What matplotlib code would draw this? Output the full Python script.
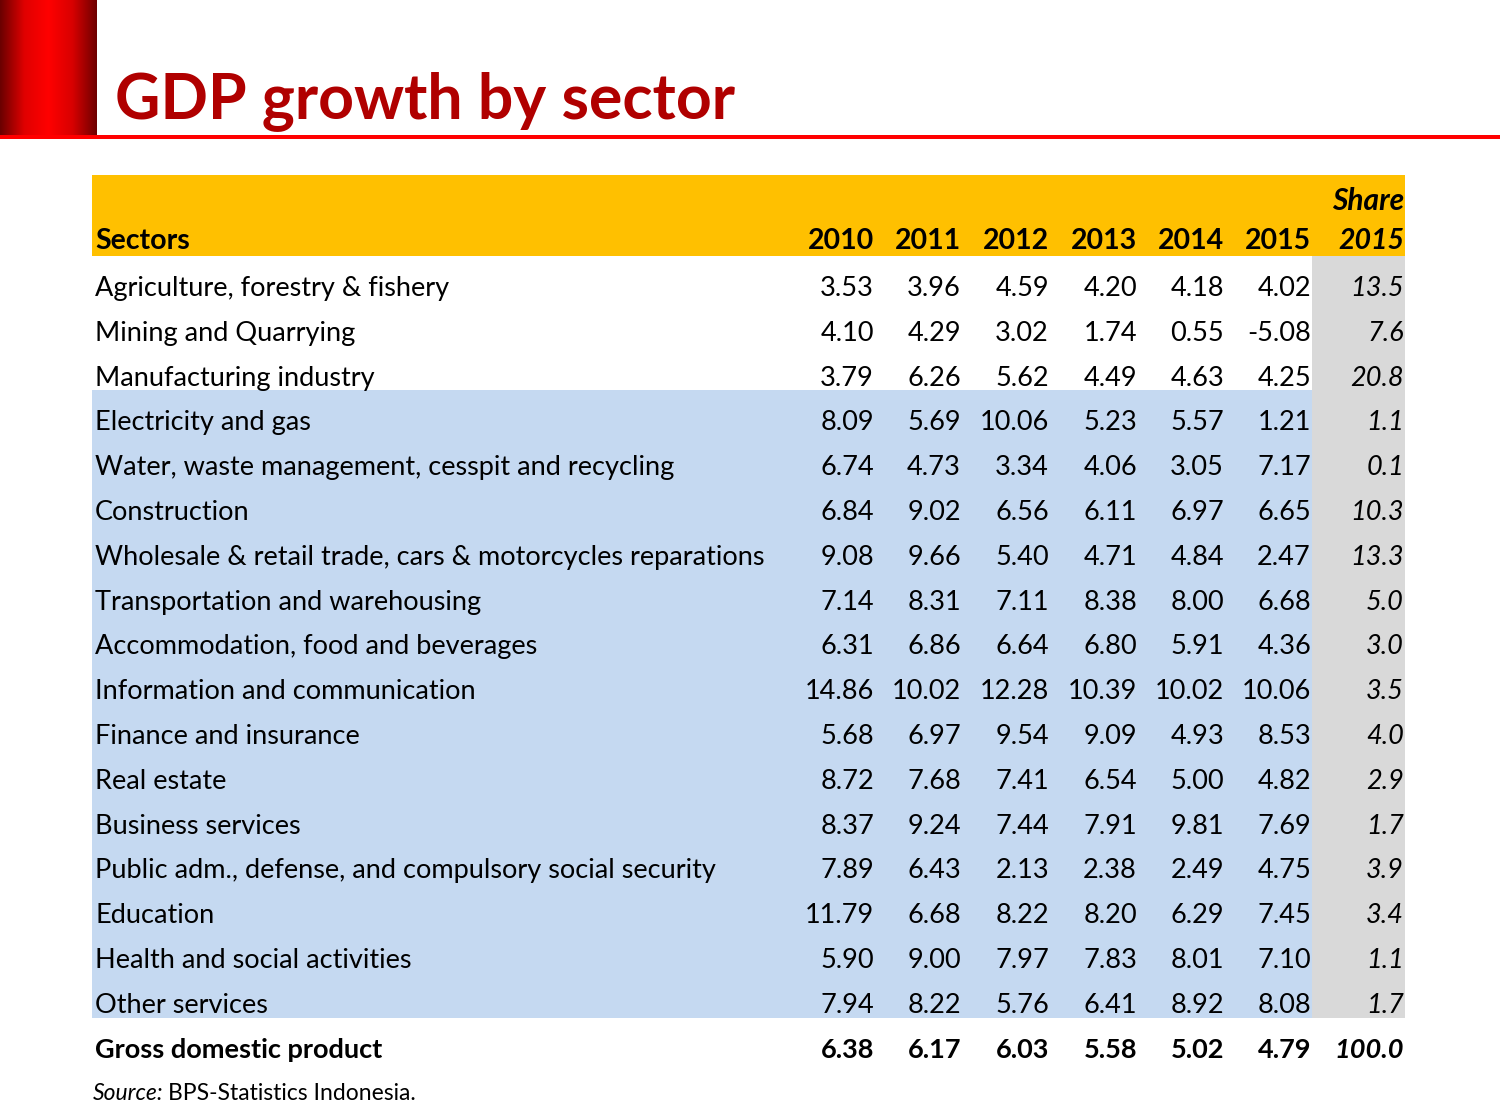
import matplotlib
matplotlib.use("Agg")
import matplotlib.pyplot as plt
from matplotlib.colors import LinearSegmentedColormap
import numpy as np

plt.rcParams['font.family'] = ['Lato', 'DejaVu Sans']

# data
title = "GDP growth by sector"
years = ["2010", "2011", "2012", "2013", "2014", "2015"]
sectors = [
    "Agriculture, forestry & fishery",
    "Mining and Quarrying",
    "Manufacturing industry",
    "Electricity and gas",
    "Water, waste management, cesspit and recycling",
    "Construction",
    "Wholesale & retail trade, cars & motorcycles reparations",
    "Transportation and warehousing",
    "Accommodation, food and beverages",
    "Information and communication",
    "Finance and insurance",
    "Real estate",
    "Business services",
    "Public adm., defense, and compulsory social security",
    "Education",
    "Health and social activities",
    "Other services",
]
g2010 = [3.53, 4.10, 3.79, 8.09, 6.74, 6.84, 9.08, 7.14, 6.31, 14.86, 5.68, 8.72, 8.37, 7.89, 11.79, 5.90, 7.94]
g2011 = [3.96, 4.29, 6.26, 5.69, 4.73, 9.02, 9.66, 8.31, 6.86, 10.02, 6.97, 7.68, 9.24, 6.43, 6.68, 9.00, 8.22]
g2012 = [4.59, 3.02, 5.62, 10.06, 3.34, 6.56, 5.40, 7.11, 6.64, 12.28, 9.54, 7.41, 7.44, 2.13, 8.22, 7.97, 5.76]
g2013 = [4.20, 1.74, 4.49, 5.23, 4.06, 6.11, 4.71, 8.38, 6.80, 10.39, 9.09, 6.54, 7.91, 2.38, 8.20, 7.83, 6.41]
g2014 = [4.18, 0.55, 4.63, 5.57, 3.05, 6.97, 4.84, 8.00, 5.91, 10.02, 4.93, 5.00, 9.81, 2.49, 6.29, 8.01, 8.92]
g2015 = [4.02, -5.08, 4.25, 1.21, 7.17, 6.65, 2.47, 6.68, 4.36, 10.06, 8.53, 4.82, 7.69, 4.75, 7.45, 7.10, 8.08]
share2015 = [13.5, 7.6, 20.8, 1.1, 0.1, 10.3, 13.3, 5.0, 3.0, 3.5, 4.0, 2.9, 1.7, 3.9, 3.4, 1.1, 1.7]
gdp_growth = [6.38, 6.17, 6.03, 5.58, 5.02, 4.79]
gdp_share = 100.0
source = "BPS-Statistics Indonesia."

growth = [g2010, g2011, g2012, g2013, g2014, g2015]

W, H = 1500, 1113
fig = plt.figure(figsize=(W / 100, H / 100), dpi=100)
ax = fig.add_axes([0, 0, 1, 1])
ax.set_xlim(0, W)
ax.set_ylim(H, 0)
ax.axis('off')

# red header block + line
cmap = LinearSegmentedColormap.from_list('bar', ['#6a0000', '#e00000', '#ff0000', '#d80000', '#6e0000'])
ax.imshow(np.linspace(0, 1, 200)[None, :], cmap=cmap, extent=[0, 97, 137, 0], aspect='auto')
ax.add_patch(plt.Rectangle((0, 135), W, 3.5, color='#ff0000', lw=0))
ax.text(115, 118, title, fontsize=45, fontweight='bold', color='#b00000', va='baseline')

# table geometry
x0, x1 = 92, 1405
top_head, top_body = 175, 256
rh = 44.8
col_right = [874, 961, 1049, 1137, 1224, 1311]
share_right = 1404
fs = 19.5
hfs = 20.5

ax.add_patch(plt.Rectangle((x0, top_head), x1 - x0, top_body - top_head, color='#ffc000', lw=0))
n = len(sectors)
ax.add_patch(plt.Rectangle((x0, top_body + 3 * rh), 1312 - x0, (n - 3) * rh, color='#c5d9f1', lw=0))
ax.add_patch(plt.Rectangle((1312, top_body), x1 - 1312, n * rh, color='#d9d9d9', lw=0))

ax.text(95, 249, "Sectors", fontsize=hfs, fontweight='bold', va='baseline')
for j, y in enumerate(years):
    ax.text(col_right[j], 249, y, fontsize=hfs, fontweight='bold', ha='right', va='baseline')
ax.text(share_right, 210, "Share", fontsize=21.5, fontweight='bold', style='italic', ha='right', va='baseline')
ax.text(share_right, 249, "2015", fontsize=hfs, fontweight='bold', style='italic', ha='right', va='baseline')

for i, s in enumerate(sectors):
    yb = top_body + i * rh + 40
    ax.text(95, yb, s, fontsize=fs, va='baseline')
    for j in range(len(years)):
        ax.text(col_right[j], yb, f"{growth[j][i]:.2f}", fontsize=fs, ha='right', va='baseline')
    ax.text(share_right, yb, f"{share2015[i]:.1f}", fontsize=fs, style='italic', ha='right', va='baseline')

yb = top_body + n * rh + 40
ax.text(95, yb, "Gross domestic product", fontsize=fs, fontweight='bold', va='baseline')
for j in range(len(years)):
    ax.text(col_right[j], yb, f"{gdp_growth[j]:.2f}", fontsize=fs, fontweight='bold', ha='right', va='baseline')
ax.text(share_right, yb, f"{gdp_share:.1f}", fontsize=fs, fontweight='bold', style='italic', ha='right', va='baseline')

t = ax.text(93, 1100, "Source:", fontsize=16.5, style='italic', va='baseline')
ax.annotate(source, xycoords=t, xy=(1, 0), xytext=(4, 0), textcoords='offset pixels',
            va='bottom', fontsize=16.5)

fig.savefig("out.png", dpi=100)
